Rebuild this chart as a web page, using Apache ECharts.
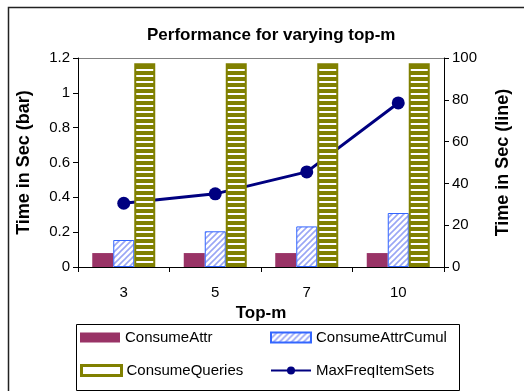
<!DOCTYPE html>
<html>
<head>
<meta charset="utf-8">
<script src="https://cdn.jsdelivr.net/npm/echarts@6/dist/echarts.min.js"></script>
<style>
html,body{margin:0;padding:0;background:#fff;}
#main{width:524px;height:391px;}
</style>
</head>
<body>
<div id="main"></div>
<script>
var categories = ['3', '5', '7', '10'];
var consumeAttr = [0.08, 0.08, 0.08, 0.08];
var consumeAttrCumul = [0.155, 0.205, 0.233, 0.31];
var consumeQueries = [1.17, 1.17, 1.17, 1.17];
var maxFreqItemSets = [30.5, 35, 45.5, 78.5];
var leftTicks = [0, 0.2, 0.4, 0.6, 0.8, 1, 1.2];
var rightTicks = [0, 20, 40, 60, 80, 100];

function hatchPattern() {
  var c = document.createElement('canvas');
  c.width = 6; c.height = 6;
  var g = c.getContext('2d');
  g.fillStyle = '#ffffff';
  g.fillRect(0, 0, 6, 6);
  g.strokeStyle = '#9aa6f5';
  g.lineWidth = 1.6;
  g.beginPath();
  g.moveTo(-1, 7); g.lineTo(7, -1);
  g.moveTo(-1, 1); g.lineTo(1, -1);
  g.moveTo(5, 7); g.lineTo(7, 5);
  g.stroke();
  return c;
}
function stripePattern() {
  var c = document.createElement('canvas');
  c.width = 4; c.height = 6;
  var g = c.getContext('2d');
  g.fillStyle = '#808000';
  g.fillRect(0, 0, 4, 6);
  g.fillStyle = '#ffffff';
  g.fillRect(0, 3, 4, 2);
  return c;
}

var FONT = '"Liberation Sans", Arial, sans-serif';
var chart = echarts.init(document.getElementById('main'), null, {renderer: 'canvas'});

var splitColors = leftTicks.map(function (v, i) { return i === leftTicks.length - 1 ? '#808080' : 'rgba(0,0,0,0)'; });

function legendItem(name, left, top, extra) {
  var d = {name: name};
  if (name !== 'MaxFreqItemSets') d.icon = 'rect';
  if (extra) d.itemStyle = extra;
  return {
    data: [d],
    left: left, top: top, itemWidth: 40, itemHeight: 10,
    padding: 0, selectedMode: false,
    textStyle: {fontFamily: FONT, fontSize: 15, color: '#000'}
  };
}

chart.setOption({
  animation: false,
  textStyle: {fontFamily: FONT},
  title: {
    text: 'Performance for varying top-m',
    left: 142, top: 22,
    textStyle: {fontFamily: FONT, fontSize: 17, fontWeight: 'bold', color: '#000'}
  },
  grid: {left: 78, right: 80, top: 58, bottom: 124},
  legend: [
    legendItem('ConsumeAttr', 80, 330),
    legendItem('ConsumeAttrCumul', 270, 330),
    legendItem('ConsumeQueries', 80, 363, {color: '#ffffff', borderColor: '#808000', borderWidth: 3}),
    legendItem('MaxFreqItemSets', 270, 363)
  ],
  graphic: [
    {type: 'rect', left: 6, top: 5, shape: {width: 600, height: 500}, style: {fill: 'none', stroke: '#222', lineWidth: 1.5}, silent: true},
    {type: 'rect', left: 74, top: 322, shape: {width: 383, height: 66}, style: {fill: 'none', stroke: '#000', lineWidth: 1}, silent: true}
  ],
  xAxis: {
    type: 'category',
    data: categories,
    name: 'Top-m',
    nameLocation: 'middle',
    nameGap: 30,
    nameTextStyle: {fontFamily: FONT, fontSize: 17, fontWeight: 'bold', color: '#000'},
    axisLine: {lineStyle: {color: '#000', width: 1}},
    axisTick: {show: true, length: 5, lineStyle: {color: '#000'}},
    axisLabel: {margin: 18, fontSize: 15, color: '#000', fontFamily: FONT}
  },
  yAxis: [
    {
      type: 'value', min: 0, max: 1.2, interval: 0.2,
      name: 'Time in Sec (bar)', nameLocation: 'middle', nameGap: 45, nameRotate: 90,
      nameTextStyle: {fontFamily: FONT, fontSize: 18, fontWeight: 'bold', color: '#000'},
      axisLine: {show: true, lineStyle: {color: '#000'}},
      axisTick: {show: true, length: 5, lineStyle: {color: '#000'}},
      axisLabel: {fontSize: 15, color: '#000', margin: 8, fontFamily: FONT},
      splitLine: {show: true, lineStyle: {color: splitColors, width: 1}}
    },
    {
      type: 'value', min: 0, max: 100, interval: 20, position: 'right',
      name: 'Time in Sec (line)', nameLocation: 'middle', nameGap: 50, nameRotate: 90,
      nameTextStyle: {fontFamily: FONT, fontSize: 18, fontWeight: 'bold', color: '#000'},
      axisLine: {show: true, lineStyle: {color: '#000'}},
      axisTick: {show: true, length: 5, lineStyle: {color: '#000'}},
      axisLabel: {fontSize: 15, color: '#000', margin: 8, fontFamily: FONT},
      splitLine: {show: false}
    }
  ],
  series: [
    {
      name: 'ConsumeAttr', type: 'bar', data: consumeAttr, barWidth: 21, barGap: '0%', z: 3,
      itemStyle: {color: '#993366'}
    },
    {
      name: 'ConsumeAttrCumul', type: 'bar', data: consumeAttrCumul, barWidth: 21, barGap: '0%', z: 3,
      itemStyle: {color: {image: hatchPattern(), repeat: 'repeat'}, borderColor: '#3366ff', borderWidth: 1}
    },
    {
      name: 'ConsumeQueries', type: 'bar', data: consumeQueries, barWidth: 21, barGap: '0%', z: 3,
      itemStyle: {color: {image: stripePattern(), repeat: 'repeat'}, borderColor: '#808000', borderWidth: 2}
    },
    {
      name: 'MaxFreqItemSets', type: 'line', yAxisIndex: 1, data: maxFreqItemSets, z: 2,
      symbol: 'circle', symbolSize: 13,
      lineStyle: {color: '#000080', width: 3},
      itemStyle: {color: '#000080'}
    }
  ]
});
</script>
</body>
</html>
